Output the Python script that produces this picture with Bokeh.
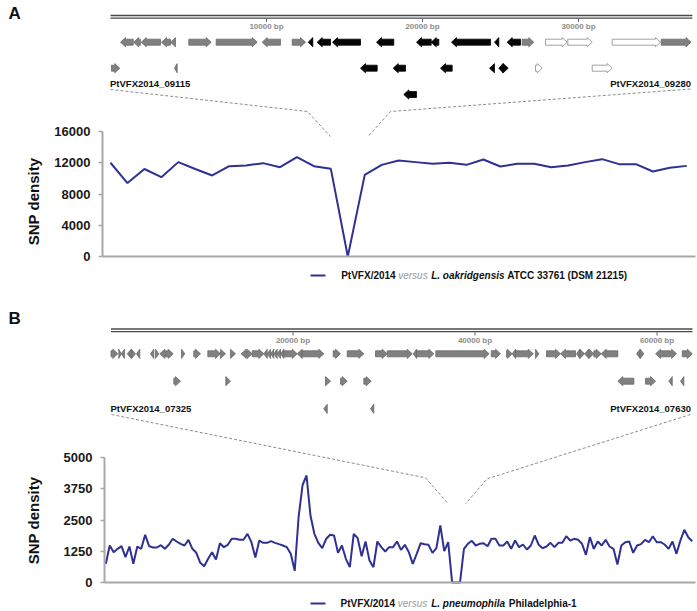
import math
import numpy as np
from bokeh.plotting import figure
from bokeh.models import Range1d, FixedTicker
from bokeh.layouts import column
from bokeh.core.properties import value
from bokeh.embed import file_html
from bokeh.resources import INLINE

# ---------------- data ----------------
snp_a = [12000, 9400, 11200, 10150, 12080, 11200, 10370, 11560, 11650, 11950,
         11430, 12720, 11560, 11220, 0, 10450, 11730, 12290, 12080, 11860,
         11990, 11730, 12420, 11520, 11860, 11860, 11430, 11650, 12080, 12460,
         11820, 11820, 10880, 11350, 11600]
yticks_a = [0, 4000, 8000, 12000, 16000]

snp_b = [747, 1480, 1213, 1347, 1453, 1013, 1440, 747, 1440, 1347, 1907, 1453, 1400, 1400, 1493,
         1347, 1507, 1747, 1640, 1547, 1480, 1707, 1347, 1187, 787, 653, 947, 1213, 920, 1573,
         1413, 1507, 1747, 1747, 1707, 1707, 1947, 1613, 1000, 1680, 1587, 1587, 1653, 1587, 1533,
         1480, 1413, 1147, 467, 2640, 3900,
         4280, 2680, 1947, 1587, 1373, 1747, 1907, 1880, 1187, 1480, 947, 613, 1947, 1773, 1053,
         1640, 880, 613, 1640, 1413, 1240, 1413, 1413, 1640, 1307, 1507, 1213, 747, 1147, 1573,
         1533, 1507, 1187, 1373, 2280, 1253, 1613, 0, 0, 0, 1347, 1547, 1667, 1480, 1547,
         1573, 1453, 1747, 1747, 1480,
         1480, 1640, 1347, 1680, 1413, 1520, 1320, 1480, 1880, 1507, 1373, 1440, 1587, 1413, 1587,
         1587, 1853, 1680, 1747, 1707, 1547, 1107, 1813, 1347, 1640, 1480, 1707, 1440, 1347, 720,
         1480, 1613, 1640, 1187, 1480, 1533, 1707, 1613, 1853, 1613, 1613, 1520, 1347, 1640, 1147,
         1680, 2107, 1813, 1653]
yticks_b = [0, 1250, 2500, 3750, 5000]

# gene maps (bp)
region_len_a = 37300
ruler_ticks_a = [10000, 20000, 30000]
genes_a_start = [641, 1480, 1968, 3269, 3846, 5019, 6776, 9724, 11647, 12673, 13250, 14230,
                 17051, 19615, 20558, 21858, 24615, 25429, 26391, 27885, 29314, 32160, 35301,
                 64, 4102, 16025, 18122, 21153, 24294, 24891, 25160, 27243, 30878,
                 18801]
genes_a_end = [1455, 1917, 3205, 3846, 4167, 6455, 9404, 10897, 12500, 12968, 14103, 16025,
               18160, 20558, 21045, 24358, 24891, 26282, 27135, 29276, 30878, 35256, 37212,
               596, 4276, 17096, 18910, 21903, 24615, 25160, 25493, 27673, 32160,
               19615]
genes_a_strand = ['-', '-', '-', '-', '-', '+', '+', '-', '+', '-', '-', '-',
                  '-', '-', '-', '-', '-', '-', '+', '+', '+', '+', '+',
                  '+', '-', '-', '-', '-', '-', '-', '+', '+', '+',
                  '-']
genes_a_row = [1] * 23 + [2] * 10 + [3]
genes_a_kind = ['grey'] * 9 + ['black'] * 9 + ['grey', 'white', 'white', 'white', 'grey'] + \
               ['grey', 'grey', 'black', 'black', 'black', 'black', 'black', 'black', 'white', 'white'] + \
               ['black']
gene_labels_a = ["PtVFX2014_09115", "PtVFX2014_09280"]

region_len_b = 63900
ruler_ticks_b = [20000, 40000, 60000]
genes_b = [
    (0, 747, '+', 1), (857, 1121, '+', 1), (1121, 1484, '-', 1), (1780, 2220, '-', 1),
    (2253, 2693, '+', 1), (2802, 3165, '-', 1), (4341, 4704, '-', 1), (4890, 5253, '+', 1),
    (5363, 5989, '-', 1), (6066, 6836, '+', 1), (7748, 8110, '+', 1), (9100, 9836, '+', 1),
    (10638, 12034, '+', 1), (12034, 12584, '+', 1), (13133, 13683, '+', 1), (14309, 14891, '-', 1),
    (14968, 15518, '+', 1), (15518, 16793, '+', 1), (16793, 17166, '-', 1), (17166, 17531, '-', 1),
    (17531, 17896, '-', 1), (17896, 18261, '-', 1), (18261, 18626, '-', 1), (18626, 18991, '-', 1),
    (18991, 20464, '+', 1), (20464, 21013, '-', 1), (21013, 23387, '+', 1), (24420, 25222, '+', 1),
    (25958, 27783, '+', 1), (29068, 30354, '+', 1), (30354, 33102, '+', 1), (33212, 33575, '-', 1),
    (33575, 35476, '+', 1), (35696, 41553, '+', 1), (41784, 42806, '+', 1), (43466, 44092, '+', 1),
    (44092, 44455, '-', 1), (44455, 46400, '+', 1), (46653, 47015, '+', 1), (47860, 49399, '+', 1),
    (49399, 51047, '-', 1), (51157, 51520, '-', 1), (51520, 52037, '+', 1), (52037, 52509, '-', 1),
    (52509, 53059, '+', 1), (53059, 53872, '+', 1), (53872, 55697, '-', 1), (57752, 58150, '-', 1),
    (58150, 58554, '+', 1), (59842, 61491, '-', 1), (61601, 62150, '+', 1), (62776, 63875, '+', 1),
    (6902, 7638, '+', 2), (12617, 13133, '+', 2), (23574, 24123, '+', 2), (25222, 25958, '+', 2),
    (27783, 28596, '+', 2), (55697, 57455, '-', 2), (58741, 59842, '+', 2), (61304, 61677, '-', 2),
    (62590, 62951, '-', 2),
    (23387, 23761, '-', 3), (28520, 28882, '-', 3),
]
genes_b_start = [g[0] for g in genes_b]
genes_b_end = [g[1] for g in genes_b]
genes_b_strand = [g[2] for g in genes_b]
genes_b_row = [g[3] for g in genes_b]
genes_b_kind = ['grey'] * len(genes_b)
gene_labels_b = ["PtVFX2014_07325", "PtVFX2014_07630"]

legend_a = [("PtVFX/2014", "bold", "#111111"), ("versus", "italic", "#9a9a9a"),
            ("L. oakridgensis", "bold italic", "#111111"), ("ATCC 33761 (DSM 21215)", "bold", "#111111")]
legend_b = [("PtVFX/2014", "bold", "#111111"), ("versus", "italic", "#9a9a9a"),
            ("L. pneumophila", "bold italic", "#111111"), ("Philadelphia-1", "bold", "#111111")]

# ---------------- styling ----------------
FONT = "Liberation Sans"
BLUE = "#2e3192"
AXIS_GREY = "#a8a8a8"
KIND_FILL = {"grey": "#808080", "black": "#050505", "white": "#ffffff"}
KIND_LINE = {"grey": "#6a6a6a", "black": "#000000", "white": "#8a8a8a"}
FIG_W = 697


def arrow_poly(s, e, strand, yc, head):
    h = min(head, e - s)
    if strand == '+':
        xs = [s, e - h, e - h, e, e - h, e - h, s]
    else:
        xs = [e, s + h, s + h, s, s + h, s + h, e]
    ys = [yc - 3, yc - 3, yc - 4.6, yc, yc + 4.6, yc + 3, yc + 3]
    return xs, ys


def make_panel(cfg):
    top = cfg["page_top"]
    h = cfg["height"]
    bottom = top + h
    ax_l, ax_r, ax_b = cfg["axis_left"], cfg["axis_right"], cfg["axis_bottom"]
    ypp = cfg["ymax"] / cfg["ymax_px"]            # value per px
    n = len(cfg["snp"])
    dx = (cfg["x_last"] - cfg["x_first"]) / (n - 1)

    def ix(px):
        return (px - cfg["x_first"]) / dx

    ppb = cfg["px_per_bp"]

    p = figure(width=FIG_W, height=h, output_backend="svg", toolbar_location=None,
               x_range=Range1d(ix(0), ix(FIG_W)),
               y_range=Range1d(-(bottom - ax_b) * ypp, (ax_b - top) * ypp),
               min_border_left=0, min_border_right=0, min_border_top=0, min_border_bottom=0)
    p.extra_x_ranges = {"bp": Range1d(-cfg["bp_origin"] / ppb, (FIG_W - cfg["bp_origin"]) / ppb),
                        "px": Range1d(0, FIG_W)}
    p.extra_y_ranges = {"py": Range1d(bottom, top)}
    p.outline_line_color = None
    p.grid.visible = False
    p.background_fill_color = "white"
    p.border_fill_color = "white"

    ya = p.yaxis[0]
    ya.fixed_location = ix(ax_l)
    ya.bounds = (0, cfg["ymax"])
    ya.ticker = FixedTicker(ticks=cfg["yticks"])
    ya.axis_line_color = AXIS_GREY
    ya.axis_line_width = 2
    ya.major_tick_line_color = AXIS_GREY
    ya.major_tick_line_width = 1.5
    ya.major_tick_out = 4
    ya.major_tick_in = 0
    ya.minor_tick_line_color = None
    ya.major_label_text_font = FONT
    ya.major_label_text_font_size = "13px"
    ya.major_label_text_font_style = "bold"
    ya.major_label_text_color = "#1a1a1a"
    ya.major_label_standoff = 8

    xa = p.xaxis[0]
    xa.fixed_location = 0
    xa.bounds = (ix(ax_l), ix(ax_r))
    xa.ticker = FixedTicker(ticks=[])
    xa.axis_line_color = AXIS_GREY
    xa.axis_line_width = 2
    xa.major_tick_line_color = None
    xa.minor_tick_line_color = None
    xa.major_label_text_font_size = "0px"

    # SNP density line
    p.line(x=np.arange(n), y=cfg["snp"], line_color=BLUE, line_width=2)

    # ruler
    ry = cfg["ruler_y"]
    for yy in (ry, ry + 2.6):
        p.line(x=[0, cfg["region_len"]], y=[yy, yy], line_color="#4a4a4a", line_width=1.3,
               x_range_name="bp", y_range_name="py")
    rt = cfg["ruler_ticks"]
    p.segment(x0=rt, y0=[ry + 2.6] * len(rt), x1=rt, y1=[ry + 6.5] * len(rt),
              line_color="#6a6a6a", line_width=1, x_range_name="bp", y_range_name="py")
    p.text(x=rt, y=[ry + 11] * len(rt), text=[f"{t} bp" for t in rt],
           text_font=value(FONT), text_font_size="8px", text_font_style="bold",
           text_color="#8c8c8c", text_align="center", text_baseline="middle",
           x_range_name="bp", y_range_name="py")

    # genes
    head = cfg["head_px"] / ppb
    xs, ys, fc, lc = [], [], [], []
    for s, e, st, r, k in zip(cfg["g_start"], cfg["g_end"], cfg["g_strand"], cfg["g_row"], cfg["g_kind"]):
        gx, gy = arrow_poly(s, e, st, cfg["row_y"][r - 1], head)
        xs.append(gx); ys.append(gy); fc.append(KIND_FILL[k]); lc.append(KIND_LINE[k])
    p.patches(xs=xs, ys=ys, fill_color=fc, line_color=lc, line_width=0.8,
              x_range_name="bp", y_range_name="py")

    # gene labels
    ly = cfg["label_y"]
    p.text(x=[cfg["bp_origin"] - 0.5], y=[ly], text=[cfg["labels"][0]], text_font=value(FONT),
           text_font_size="9.5px", text_font_style="bold", text_color="#111111",
           text_align="left", text_baseline="middle", x_range_name="px", y_range_name="py")
    p.text(x=[690.5], y=[ly], text=[cfg["labels"][1]], text_font=value(FONT),
           text_font_size="9.5px", text_font_style="bold", text_color="#111111",
           text_align="right", text_baseline="middle", x_range_name="px", y_range_name="py")

    # dashed connectors
    for cx, cy in cfg["connectors"]:
        p.line(x=cx, y=cy, line_color="#8c8c8c", line_width=1, line_dash="3 2",
               x_range_name="px", y_range_name="py")

    # panel letter
    p.text(x=[8], y=[cfg["letter_y"]], text=[cfg["letter"]], x_range_name="px", y_range_name="py",
           text_font=value(FONT), text_font_size="17px", text_font_style="bold",
           text_color="#111111", text_align="left", text_baseline="middle")
    # y label
    p.text(x=[33], y=[cfg["ylabel_y"]], text=["SNP density"], x_range_name="px", y_range_name="py",
           angle=math.pi / 2, text_font=value(FONT), text_font_size="15px", text_font_style="bold",
           text_color="#111111", text_align="center", text_baseline="middle")
    # legend
    lgy = cfg["legend_y"]
    p.line(x=[310, 325], y=[lgy, lgy], line_color=BLUE, line_width=2,
           x_range_name="px", y_range_name="py")
    for (txt, style, col), lx in zip(cfg["legend"], cfg["legend_x"]):
        p.text(x=[lx], y=[lgy], text=[txt], x_range_name="px", y_range_name="py",
               text_font=value(FONT), text_font_size="10px", text_font_style=style,
               text_color=col, text_align="left", text_baseline="middle")
    return p


cfg_a = dict(page_top=0, height=305, axis_left=102, axis_right=695, axis_bottom=256,
             ymax=16000, ymax_px=125, yticks=yticks_a, snp=snp_a, x_first=110, x_last=686.3,
             px_per_bp=0.0156, bp_origin=110, region_len=region_len_a, ruler_y=15,
             ruler_ticks=ruler_ticks_a, head_px=5, row_y=[41.7, 67.7, 94],
             g_start=genes_a_start, g_end=genes_a_end, g_strand=genes_a_strand,
             g_row=genes_a_row, g_kind=genes_a_kind, labels=gene_labels_a, label_y=82.5,
             connectors=[([110, 307, 330], [89, 111, 136]), ([690, 390, 367.5], [88.5, 111, 136])],
             letter="A", letter_y=12.5, ylabel_y=201, legend_y=275,
             legend=legend_a, legend_x=[340.7, 397.7, 430.7, 506.7])

cfg_b = dict(page_top=305, height=305, axis_left=104, axis_right=695, axis_bottom=582,
             ymax=5000, ymax_px=125, yticks=yticks_b, snp=snp_b, x_first=105.3, x_last=691.7,
             px_per_bp=0.0091, bp_origin=110.5, region_len=region_len_b, ruler_y=328.5,
             ruler_ticks=ruler_ticks_b, head_px=5, row_y=[353.3, 380.7, 408.3],
             g_start=genes_b_start, g_end=genes_b_end, g_strand=genes_b_strand,
             g_row=genes_b_row, g_kind=genes_b_kind, labels=gene_labels_b, label_y=408.3,
             connectors=[([111, 425, 447.7], [414, 477.3, 503.3]), ([690, 486.7, 465], [414, 478.3, 503.3])],
             letter="B", letter_y=318, ylabel_y=520, legend_y=603,
             legend=legend_b, legend_x=[340, 397.3, 430.7, 508.3])

pa = make_panel(cfg_a)
pb = make_panel(cfg_b)
layout = column(pa, pb, spacing=0)
open("out.html", "w").write(file_html(layout, INLINE))
